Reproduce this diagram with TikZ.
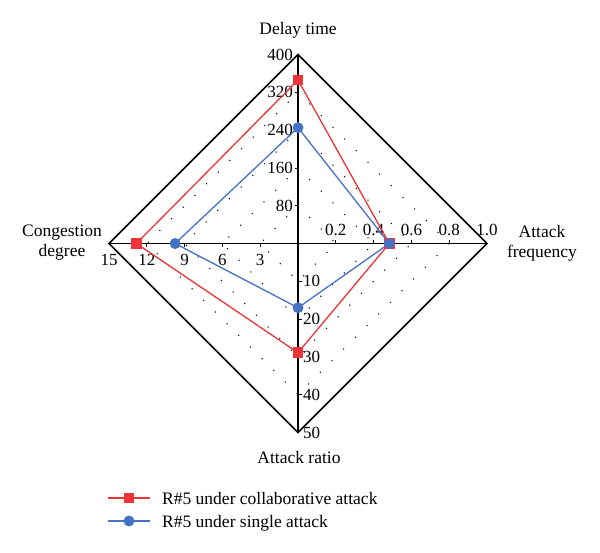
\documentclass[tikz,border=0pt]{standalone}
\usepackage{fontspec}
\setmainfont{Liberation Serif}
\usetikzlibrary{calc}
\definecolor{cred}{RGB}{237,52,56}
\definecolor{cblue}{RGB}{68,114,196}
\begin{document}
\begin{tikzpicture}[x=1pt,y=-1pt,
  axisline/.style={line width=1.6pt,black,line join=miter},
  gridline/.style={line width=1.5pt,black,line cap=round,dash pattern=on 0pt off 16.5pt},
  tickmark/.style={line width=0.8pt,black},
  ticklab/.style={font=\fontsize{17}{19}\selectfont,inner sep=0pt},
  title/.style={font=\fontsize{17.5}{20}\selectfont,align=center,inner sep=0pt},
  redline/.style={line width=1.3pt,cred},
  blueline/.style={line width=1.3pt,cblue},
  redmark/.style={rectangle,fill=cred,minimum size=10.5pt,inner sep=0pt},
  bluemark/.style={circle,fill=cblue,minimum size=11pt,inner sep=0pt},
  legtext/.style={font=\fontsize{17.5}{19}\selectfont,inner sep=0pt,anchor=base west}]
\useasboundingbox (0,0) rectangle (600,552);
\def\Rad{189}
\coordinate (C) at (298,243.5);
\coordinate (T) at ($(C)+(0,-\Rad)$);
\coordinate (Rt) at ($(C)+(\Rad,0)$);
\coordinate (B) at ($(C)+(0,\Rad)$);
\coordinate (L) at ($(C)+(-\Rad,0)$);
% dotted grid
\foreach \f in {0.2,0.4,0.6,0.8}{
  \draw[gridline] ($(C)+(0,-\f*\Rad)$) -- ($(C)+(\f*\Rad,0)$) -- ($(C)+(0,\f*\Rad)$) -- ($(C)+(-\f*\Rad,0)$) -- cycle;
}
% outer frame and axes
\draw[axisline] (T) -- (Rt) -- (B) -- (L) -- cycle;
\draw[axisline] (T) -- (B);
\draw[axisline] (L) -- (Rt);
% ticks
\foreach \f in {0.2,0.4,0.6,0.8}{
  \draw[tickmark] ($(C)+(-3.5,-\f*\Rad)$) -- ($(C)+(0,-\f*\Rad)$);
  \draw[tickmark] ($(C)+(3.5,\f*\Rad)$) -- ($(C)+(0,\f*\Rad)$);
  \draw[tickmark] ($(C)+(\f*\Rad,-3.5)$) -- ($(C)+(\f*\Rad,0)$);
  \draw[tickmark] ($(C)+(-\f*\Rad,3.5)$) -- ($(C)+(-\f*\Rad,0)$);
}
% tick labels
\foreach \f/\t [count=\i] in {0.2/80,0.4/160,0.6/240,0.8/320,1.0/400}
  \node[ticklab,anchor=east] (dl\i) at ($(C)+(-5,-\f*\Rad)$) {\t};
\foreach \f/\t [count=\i] in {0.2/0.2,0.4/0.4,0.6/0.6,0.8/0.8,1.0/1.0}
  \node[ticklab,anchor=base] (fl\i) at ($(C)+(\f*\Rad,-8.5)$) {\t};
\foreach \f/\t [count=\i] in {0.2/10,0.4/20,0.6/30,0.8/40,1.0/50}
  \node[ticklab,anchor=west] (rl\i) at ($(C)+(5,\f*\Rad)$) {\t};
\foreach \f/\t [count=\i] in {0.2/3,0.4/6,0.6/9,0.8/12,1.0/15}
  \node[ticklab,anchor=base] (cl\i) at ($(C)+(-\f*\Rad,21.5)$) {\t};
% axis titles
\node[title] (tDelay) at (298,30) {Delay time};
\node[title] (tFreq) at (542,243) {Attack\\frequency};
\node[title] (tCong) at (62,243) {Congestion\\degree};
\node[title] (tRatio) at (299,458) {Attack ratio};
% data: collaborative (red)
\coordinate (rT) at ($(C)+(0,-0.865*\Rad)$);
\coordinate (rR) at ($(C)+(0.483*\Rad,0)$);
\coordinate (rB) at ($(C)+(0,0.578*\Rad)$);
\coordinate (rL) at ($(C)+(-0.855*\Rad,0)$);
% data: single (blue)
\coordinate (bT) at ($(C)+(0,-0.613*\Rad)$);
\coordinate (bR) at ($(C)+(0.483*\Rad,0)$);
\coordinate (bB) at ($(C)+(0,0.34*\Rad)$);
\coordinate (bL) at ($(C)+(-0.65*\Rad,0)$);
\draw[redline] (rT) -- (rR) -- (rB) -- (rL) -- cycle;
\draw[blueline] (bT) -- (bR) -- (bB) -- (bL) -- cycle;
\foreach \p in {rT,rR,rB,rL} \node[redmark] (m\p) at (\p) {};
\foreach \p in {bT,bR,bB,bL} \node[bluemark] (m\p) at (\p) {};
% legend
\coordinate (la1) at (108,498);
\coordinate (lb1) at (150,498);
\coordinate (la2) at (108,521);
\coordinate (lb2) at (150,521);
\draw[redline] (la1) -- (lb1);
\draw[blueline] (la2) -- (lb2);
\node[redmark] (lm1) at (129,498) {};
\node[bluemark] (lm2) at (129,521) {};
\node[legtext] (lt1) at (162,504) {R\#5 under collaborative attack};
\node[legtext] (lt2) at (162,527) {R\#5 under single attack};
\end{tikzpicture}
\end{document}
